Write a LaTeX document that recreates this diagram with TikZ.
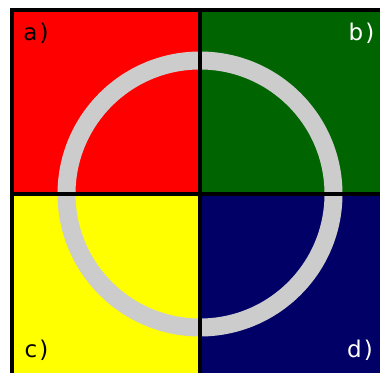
\documentclass[tikz,border=0pt]{standalone}
\usepackage{fontspec}
\setmainfont{DejaVu Sans}
\definecolor{qred}{HTML}{FF0000}
\definecolor{qgreen}{HTML}{006400}
\definecolor{qyellow}{HTML}{FFFF00}
\definecolor{qnavy}{HTML}{000066}
\definecolor{ringgray}{HTML}{CCCCCC}
\tikzset{
  quad/.style={fill=#1, draw=none},
  lbl/.style={inner sep=0pt, font=\fontsize{23}{23}\selectfont, text=#1},
  frameline/.style={line width=3.2pt, black},
  ringline/.style={line width=18pt, draw=ringgray},
}
\begin{document}
\begin{tikzpicture}[x=1pt,y=-1pt]
\useasboundingbox (0,0) rectangle (380,372);
\begin{scope}
\clip (0,0) rectangle (380,372);
\fill[white] (0,0) rectangle (380,372);
\fill[quad=qred] (12,10) rectangle (200,194);
\fill[quad=qgreen] (200,10) rectangle (395,194);
\fill[quad=qyellow] (12,194) rectangle (200,380);
\fill[quad=qnavy] (200,194) rectangle (395,380);
\coordinate (c) at (200,194);
\draw[ringline] (c) circle[radius=133.5];
\coordinate (tl) at (12,10);
\coordinate (tr) at (395,10);
\coordinate (bl) at (12,380);
\coordinate (tm) at (200,10);
\coordinate (bm) at (200,380);
\coordinate (ml) at (12,194);
\coordinate (mr) at (395,194);
\draw[frameline] (tr) -- (tl) -- (bl);
\draw[frameline] (tm) -- (bm);
\draw[frameline] (ml) -- (mr);
\fill[black] (c) circle[radius=3.2];
\end{scope}
\node[lbl=black] (la) at (36,33.5) {a\kern2pt)};
\node[lbl=white] (lb) at (361.5,33.5) {b\kern2pt)};
\node[lbl=black] (lc) at (36.5,350) {c\kern2pt)};
\node[lbl=white] (ld) at (360,350) {d\kern2pt)};
\end{tikzpicture}
\end{document}
